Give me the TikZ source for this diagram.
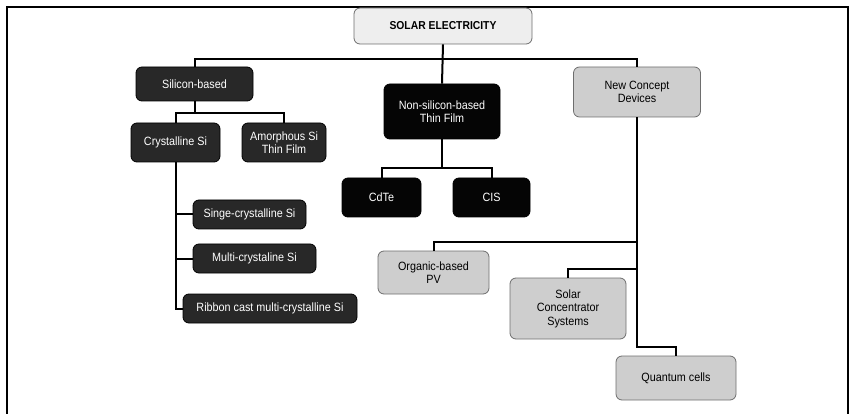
\documentclass[tikz,border=0pt]{standalone}
\usepackage{fontspec}
\setmainfont{Liberation Sans}
\newfontfamily\boxfont[FakeStretch=0.9]{Liberation Sans}
\usepackage{xcolor}
\usepackage{tikz}
\usetikzlibrary{positioning,calc}
\definecolor{darkbox}{RGB}{40,40,40}
\definecolor{blackbox}{RGB}{5,5,5}
\definecolor{lightbox}{RGB}{206,206,206}
\definecolor{lightedge}{RGB}{110,110,110}
\definecolor{topbox}{RGB}{238,238,238}
\tikzset{
  font=\boxfont\fontsize{12}{13.5}\selectfont,
  block/.style={
    rounded corners=6pt, line width=0.8pt, align=center, inner sep=2pt},
  topblock/.style={block, draw=lightedge, fill=topbox, text=black,
    font=\boxfont\fontsize{11.5}{13}\selectfont\bfseries},
  siblock/.style={block, draw=black, fill=darkbox, text=white},
  thinblock/.style={block, draw=black, fill=blackbox, text=white},
  newblock/.style={block, draw=lightedge, fill=lightbox, text=black},
  % connector lines
  branch/.style={draw=black, line width=2pt},
  frameline/.style={draw=black, line width=2pt},
}
\begin{document}
\begin{tikzpicture}[x=1pt,y=-1pt]
\useasboundingbox (0,0) rectangle (854,414);
\draw[frameline] (7,414) -- (7,7) -- (848,7) -- (848,414);

% ---------- top ----------
\node[topblock, minimum width=178pt, minimum height=36pt] (solar) at (443,26) {SOLAR ELECTRICITY};
\coordinate (bus) at (443,59);

% ---------- silicon-based ----------
\node[siblock, minimum width=117pt, minimum height=34pt] (silicon) at (194.5,84) {Silicon-based};
\node[siblock, minimum width=89pt, minimum height=39pt] (crystal) at (175.5,142.5) {Crystalline Si};
\node[siblock, minimum width=84pt, minimum height=39pt] (amorph) at (284,142.5) {Amorphous Si\\Thin Film};
\node[siblock, minimum width=113pt, minimum height=29pt] (single) at (249.5,214.5) {Singe-crystalline Si};
\node[siblock, minimum width=123pt, minimum height=29pt] (multi) at (254.5,258.5) {Multi-crystaline Si};
\node[siblock, minimum width=174pt, minimum height=29pt] (ribbon) at (270,308.5) {Ribbon cast multi-crystalline Si};
\coordinate (sibus) at (194.5,113);

% ---------- thin film ----------
\node[thinblock, minimum width=116pt, minimum height=55pt] (nonsi) at (442,111.5) {Non-silicon-based\\Thin Film};
\node[thinblock, minimum width=79pt, minimum height=39pt] (cdte) at (381.5,197.5) {CdTe};
\node[thinblock, minimum width=77pt, minimum height=39pt] (cis) at (491.5,197.5) {CIS};
\coordinate (nsbus) at (442,168);

% ---------- new concepts ----------
\node[newblock, minimum width=127pt, minimum height=50pt] (newc) at (637,92) {New Concept\\Devices};
\node[newblock, minimum width=111pt, minimum height=43pt] (organic) at (433.5,272.5) {Organic-based\\PV};
\node[newblock, minimum width=116pt, minimum height=61pt] (conc) at (568,308.5) {Solar\\Concentrator\\Systems};
\node[newblock, minimum width=120pt, minimum height=44pt] (quant) at (676,378) {Quantum cells};

% ---------- connectors ----------
\draw[branch] (solar.south) -- (nonsi.north);
\draw[branch] (silicon.north) |- (bus) -| (newc.north);
\draw[branch] (silicon.south) -- (sibus);
\draw[branch] (crystal.north) |- (sibus) -| (amorph.north);
\foreach \n in {single,multi,ribbon}{
  \draw[branch] (crystal.south) |- (\n.west);}
\draw[branch] (nonsi.south) -- (nsbus);
\draw[branch] (cdte.north) |- (nsbus) -| (cis.north);
\foreach \n in {organic,conc,quant}{
  \draw[branch] (newc.south) |- ([yshift=9pt]\n.north) -- (\n.north);}

\end{tikzpicture}
\end{document}
